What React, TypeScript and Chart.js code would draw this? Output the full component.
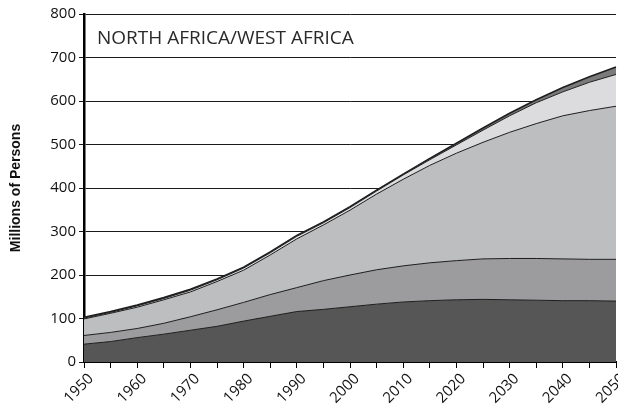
import React, { useEffect, useRef } from "react";
import { Chart, registerables } from "chart.js";

Chart.register(...registerables);

const years = [1950, 1955, 1960, 1965, 1970, 1975, 1980, 1985, 1990, 1995, 2000, 2005, 2010, 2015, 2020, 2025, 2030, 2035, 2040, 2045, 2050];

// cumulative boundaries (millions)
const cumLayer1 = [41, 47, 56, 64, 73, 82, 94, 105, 116, 121, 127, 133, 138, 141, 143, 144, 143, 142, 141, 141, 140];
const cumLayer2 = [61, 68, 77, 89, 104, 120, 137, 155, 171, 187, 200, 212, 221, 228, 233, 237, 238, 238, 237, 236, 236];
const cumLayer3 = [99, 112, 126, 143, 161, 185, 211, 246, 283, 315, 349, 386, 420, 452, 480, 505, 528, 548, 566, 578, 588];
const cumLayer4 = [101, 114, 129, 146, 165, 189, 216, 251, 289, 320, 355, 393, 430, 465, 499, 533, 566, 596, 621, 643, 661];
const cumTotal = [103, 116, 131, 148, 167, 191, 218, 253, 291, 322, 357, 395, 432, 468, 503, 538, 572, 603, 631, 656, 678];

const yTicks = [0, 100, 200, 300, 400, 500, 600, 700, 800];
const chartTitle = "NORTH AFRICA/WEST AFRICA";
const yTitle = "Millions of Persons";

const diff = (a: number[], b: number[] | null) => a.map((v, i) => (b ? v - b[i] : v));

const titlePlugin = {
  id: "insideTitle",
  afterDatasetsDraw(chart: any) {
    const { ctx, chartArea } = chart;
    ctx.save();
    ctx.font = "19px 'Open Sans', sans-serif";
    ctx.fillStyle = "#2a2a2a";
    ctx.textAlign = "left";
    ctx.textBaseline = "alphabetic";
    ctx.fillText(chartTitle, chartArea.left + 13, chartArea.top + 29.5);
    ctx.restore();
  },
};

export default function App() {
  const ref = useRef<HTMLCanvasElement | null>(null);
  useEffect(() => {
    document.body.style.margin = "0";
    const layers = [
      { data: diff(cumLayer1, null), color: "#565657" },
      { data: diff(cumLayer2, cumLayer1), color: "#9c9c9e" },
      { data: diff(cumLayer3, cumLayer2), color: "#bdbec0" },
      { data: diff(cumLayer4, cumLayer3), color: "#dcdcde" },
      { data: diff(cumTotal, cumLayer4), color: "#7a7a7b" },
    ];
    const chart = new Chart(ref.current as HTMLCanvasElement, {
      type: "line",
      data: {
        labels: years.map(String),
        datasets: layers.map((l, i) => ({
          data: l.data,
          backgroundColor: l.color,
          borderColor: "#1e1e1e",
          borderWidth: i === 4 ? 1.6 : 1,
          fill: i === 0 ? "origin" : "-1",
          pointRadius: 0,
          tension: 0,
        })),
      },
      options: {
        animation: false,
        responsive: false,
        maintainAspectRatio: false,
        layout: { padding: { left: 0, right: 2, top: 14, bottom: 0 } },
        plugins: { legend: { display: false }, tooltip: { enabled: false }, title: { display: false } },
        scales: {
          x: {
            z: 1,
            offset: false,
            grid: { display: true, drawOnChartArea: false, drawTicks: true, tickLength: 6, color: "#000", lineWidth: 1 },
            border: { display: true, color: "#000", width: 2 },
            ticks: {
              autoSkip: false,
              maxRotation: 45,
              minRotation: 45,
              padding: 2,
              labelOffset: 7,
              color: "#111",
              font: { family: "'Open Sans', sans-serif", size: 15 },
              callback: (_v: any, i: number) => (years[i] % 10 === 0 ? String(years[i]) : ""),
            },
            afterFit: (s: any) => {
              s.height = 42;
              s.paddingLeft = 0;
              s.paddingRight = 0;
            },
          },
          y: {
            z: 1,
            stacked: true,
            min: 0,
            max: 800,
            afterBuildTicks: (s: any) => {
              s.ticks = yTicks.map((v) => ({ value: v }));
            },
            grid: { color: "#1a1a1a", lineWidth: 1, tickLength: 5 },
            border: { display: true, color: "#000", width: 2.5 },
            ticks: {
              padding: 3,
              color: "#111",
              font: { family: "'Open Sans', sans-serif", size: 15 },
            },
            title: {
              display: true,
              text: yTitle,
              color: "#111",
              font: { family: "Arial, 'Liberation Sans', sans-serif", size: 14, weight: "bold" },
              padding: { top: 8, bottom: 0 },
            },
            afterFit: (s: any) => {
              s.width = 84;
              s.paddingTop = 0;
              s.paddingBottom = 0;
            },
          },
        },
      },
      plugins: [titlePlugin],
    } as any);
    return () => chart.destroy();
  }, []);
  return (
    <div style={{ width: 618, height: 404 }}>
      <canvas ref={ref} width={618} height={404} style={{ display: "block" }} />
    </div>
  );
}
